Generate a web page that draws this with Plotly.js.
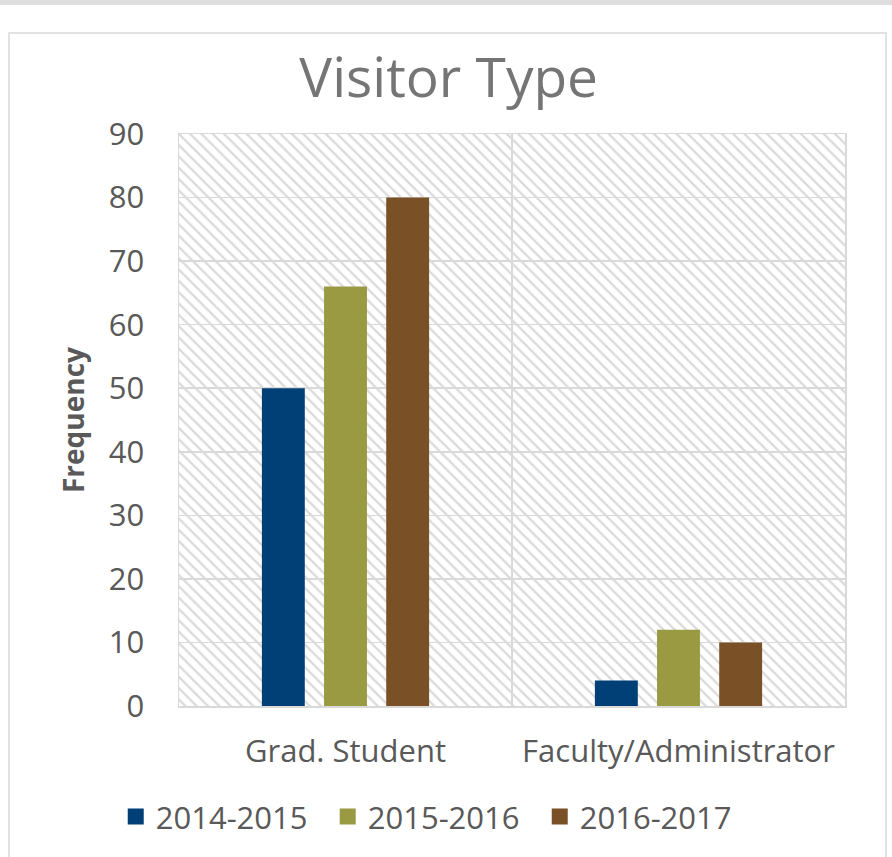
<!DOCTYPE html>
<html>
<head>
<meta charset="utf-8">
<script src="https://cdn.plot.ly/plotly-3.0.1.min.js"></script>
<style>
  html, body { margin: 0; padding: 0; background: #ffffff; }
  #band { position: absolute; left: 0; top: 0; width: 892px; height: 5px; background: #dedede; }
  #box { position: absolute; left: 8px; top: 32px; width: 879px; height: 840px; box-sizing: border-box; border: 2px solid #e2e2e2; }
  #chart { position: absolute; left: 0; top: 0; width: 892px; height: 857px; }
</style>
</head>
<body>
<div id="band"></div>
<div id="box"></div>
<div id="chart"></div>
<script>
const categories = ["Grad. Student", "Faculty/Administrator"];
const seriesNames = ["2014-2015", "2015-2016", "2016-2017"];
const values2014 = [50, 4];
const values2015 = [66, 12];
const values2016 = [80, 10];
const seriesColors = ["#013f77", "#9a9a42", "#7a5127"];
const yTicks = [0, 10, 20, 30, 40, 50, 60, 70, 80, 90];

const FONT = "'Open Sans', sans-serif";
const seriesValues = [values2014, values2015, values2016];

const traces = [];
// hatched plot background (on the hidden base axes, drawn beneath the bars)
traces.push({
  type: "bar", x: [0.5], y: [1], width: [1], base: [0],
  xaxis: "x", yaxis: "y",
  marker: { color: "rgba(0,0,0,0)", line: { width: 0 },
            pattern: { shape: "\\", fgcolor: "#dadada", bgcolor: "rgba(0,0,0,0)", size: 8, solidity: 0.28 } },
  hoverinfo: "skip", showlegend: false
});
seriesNames.forEach((name, i) => {
  traces.push({
    type: "bar", name: name, x: categories, y: seriesValues[i],
    xaxis: "x2", yaxis: "y2",
    marker: { color: seriesColors[i], line: { width: 0 } },
    showlegend: false
  });
});
// legend entries (larger square symbols)
seriesNames.forEach((name, i) => {
  traces.push({
    type: "scatter", mode: "markers", name: name, x: [null], y: [null],
    xaxis: "x2", yaxis: "y2",
    marker: { symbol: "square", size: 16, color: seriesColors[i] },
    hoverinfo: "skip"
  });
});

const layout = {
  width: 892, height: 857,
  margin: { l: 179, r: 47, t: 134, b: 151 },
  paper_bgcolor: "rgba(0,0,0,0)",
  plot_bgcolor: "#ffffff",
  font: { family: FONT, color: "#595959", size: 31 },
  title: { text: "Visitor Type", x: 0.503, xref: "container", y: 0.909, yref: "container",
           xanchor: "center", yanchor: "middle",
           font: { family: FONT, size: 55, color: "#757575" } },
  barmode: "group", bargap: 0.44, bargroupgap: 0.31,
  xaxis: { range: [0, 1], visible: false, fixedrange: true },
  yaxis: { range: [0, 1], visible: false, fixedrange: true },
  xaxis2: {
    overlaying: "x", anchor: "y2", side: "bottom", type: "category",
    tickson: "boundaries", showgrid: true, gridcolor: "#d9d9d9", gridwidth: 1.5,
    showline: true, mirror: true, linecolor: "#d9d9d9", linewidth: 1.5,
    ticks: "", ticklabelstandoff: 17,
    tickfont: { family: FONT, size: 31, color: "#595959" }
  },
  yaxis2: {
    overlaying: "y", anchor: "x2", side: "left",
    range: [0, 90], tickvals: yTicks, ticktext: yTicks.map(String),
    showgrid: true, gridcolor: "#d9d9d9", gridwidth: 1.5, zeroline: false,
    showline: true, mirror: true, linecolor: "#d9d9d9", linewidth: 1.5,
    ticks: "", ticklabelstandoff: 27,
    tickfont: { family: FONT, size: 31, color: "#595959" },
    title: { text: "<b>Frequency</b>", standoff: 16, font: { family: FONT, size: 28, color: "#595959" } }
  },
  showlegend: true,
  legend: {
    orientation: "h", x: -0.095, xanchor: "left", y: -0.194, yanchor: "middle",
    font: { family: FONT, size: 31, color: "#595959" },
    bgcolor: "rgba(0,0,0,0)", entrywidth: 167, entrywidthmode: "pixels",
    traceorder: "normal"
  }
};

Plotly.newPlot("chart", traces, layout, { displayModeBar: false, staticPlot: true });
</script>
</body>
</html>
